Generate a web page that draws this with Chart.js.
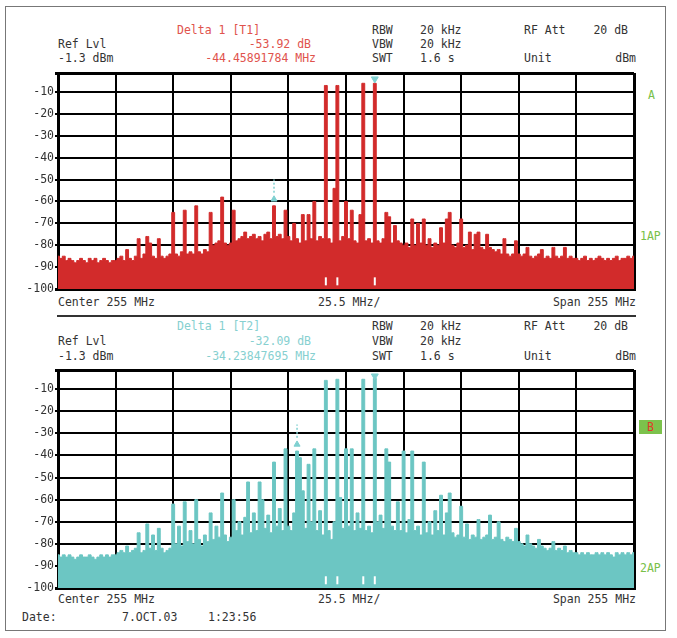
<!DOCTYPE html>
<html>
<head>
<meta charset="utf-8">
<script src="https://cdn.jsdelivr.net/npm/chart.js@4.4.1/dist/chart.umd.min.js"></script>
<style>
body { margin: 0; background: #fff; }
#page { position: relative; width: 677px; height: 638px; overflow: hidden;
        font-family: "DejaVu Sans Mono", monospace; font-size: 11.5px; color: #333; }
#frame { position: absolute; left: 5px; top: 6px; width: 659px; height: 623px; border: 1px solid #777; }
.t { position: absolute; white-space: pre; line-height: 14px; }
.red { color: #e0534d; }
.cyan { color: #86d0d0; }
.green { color: #78c048; }
#sep { position: absolute; left: 57px; top: 315px; width: 579px; height: 2px; background: #333; }
#boxB { position: absolute; left: 639px; top: 420px; width: 23px; height: 14px; background: #7cc24c;
        color: #e03a2a; text-align: center; line-height: 14px; }
canvas { position: absolute; }
</style>
</head>
<body>
<div id="page">
  <div id="frame"></div>

  <!-- upper header -->
  <div class="t red" style="left:177px;top:23px">Delta 1 [T1]</div>
  <div class="t" style="left:372px;top:23px">RBW</div>
  <div class="t" style="left:420px;top:23px">20 kHz</div>
  <div class="t" style="left:524px;top:23px">RF Att</div>
  <div class="t" style="right:49px;top:23px">20 dB</div>
  <div class="t" style="left:58px;top:37px">Ref Lvl</div>
  <div class="t red" style="right:366px;top:37px">-53.92 dB</div>
  <div class="t" style="left:372px;top:37px">VBW</div>
  <div class="t" style="left:420px;top:37px">20 kHz</div>
  <div class="t" style="left:58px;top:51px">-1.3 dBm</div>
  <div class="t red" style="right:361px;top:51px">-44.45891784 MHz</div>
  <div class="t" style="left:372px;top:51px">SWT</div>
  <div class="t" style="left:420px;top:51px">1.6 s</div>
  <div class="t" style="left:524px;top:51px">Unit</div>
  <div class="t" style="right:41px;top:51px">dBm</div>

  <div class="t green" style="left:648px;top:88px">A</div>
  <div class="t green" style="left:640px;top:229px">1AP</div>

  <div class="t" style="left:58px;top:295px">Center 255 MHz</div>
  <div class="t" style="left:318px;top:295px">25.5 MHz/</div>
  <div class="t" style="right:41px;top:295px">Span 255 MHz</div>

  <div id="sep"></div>

  <!-- lower header -->
  <div class="t cyan" style="left:177px;top:319px">Delta 1 [T2]</div>
  <div class="t" style="left:372px;top:319px">RBW</div>
  <div class="t" style="left:420px;top:319px">20 kHz</div>
  <div class="t" style="left:524px;top:319px">RF Att</div>
  <div class="t" style="right:49px;top:319px">20 dB</div>
  <div class="t" style="left:58px;top:334px">Ref Lvl</div>
  <div class="t cyan" style="right:366px;top:334px">-32.09 dB</div>
  <div class="t" style="left:372px;top:334px">VBW</div>
  <div class="t" style="left:420px;top:334px">20 kHz</div>
  <div class="t" style="left:58px;top:349px">-1.3 dBm</div>
  <div class="t cyan" style="right:361px;top:349px">-34.23847695 MHz</div>
  <div class="t" style="left:372px;top:349px">SWT</div>
  <div class="t" style="left:420px;top:349px">1.6 s</div>
  <div class="t" style="left:524px;top:349px">Unit</div>
  <div class="t" style="right:41px;top:349px">dBm</div>

  <div id="boxB">B</div>
  <div class="t green" style="left:640px;top:561px">2AP</div>

  <div class="t" style="left:58px;top:592px">Center 255 MHz</div>
  <div class="t" style="left:318px;top:592px">25.5 MHz/</div>
  <div class="t" style="right:41px;top:592px">Span 255 MHz</div>

  <div class="t" style="left:22px;top:610px">Date:</div>
  <div class="t" style="left:122px;top:610px">7.OCT.03</div>
  <div class="t" style="left:208px;top:610px">1:23:56</div>

  <canvas id="specA" width="622" height="232" style="left:18px;top:65px"></canvas>
  <canvas id="specB" width="622" height="234" style="left:18px;top:362px"></canvas>
</div>

<script>
// 200 frequency bins across the 255 MHz span (20 bins per 25.5 MHz division)
const bins = 200;
const xDivs = [0, 20, 40, 60, 80, 100, 120, 140, 160, 180, 200];
const yTicks = [-100, -90, -80, -70, -60, -50, -40, -30, -20, -10];
const yMin = -100;
const yMax = -1.3;   // ref level

// trace 1 (dBm), one value per bin
const traceA = [
  -85,-86,-85,-87,-86,-87,-88,-87,-86,-87,-88,-86,-87,-86,-88,-87,-86,-87,-88,-87,
  -87,-86,-85,-87,-82,-86,-87,-85,-77,-86,-84,-76,-79,-85,-86,-77,-85,-86,-85,-84,
  -65,-84,-85,-83,-64,-84,-83,-84,-62,-83,-84,-82,-83,-65,-80,-79,-78,-58,-79,-80,
  -79,-64,-78,-77,-76,-74,-77,-76,-75,-77,-76,-78,-75,-74,-77,-62,-76,-75,-77,-64,
  -76,-78,-70,-77,-79,-66,-78,-66,-77,-60,-78,-76,-77,-7,-77,-79,-54,-7,-78,-76,
  -60,-77,-64,-78,-79,-66,-6,-78,-77,-79,-6,-78,-79,-77,-65,-67,-79,-71,-78,-79,
  -80,-79,-81,-68,-80,-70,-79,-68,-80,-77,-81,-79,-80,-72,-79,-68,-65,-80,-81,-79,
  -68,-81,-80,-74,-82,-75,-74,-81,-82,-75,-81,-82,-83,-82,-84,-77,-84,-85,-84,-78,
  -84,-85,-84,-81,-85,-86,-85,-84,-82,-86,-85,-86,-81,-85,-86,-85,-81,-86,-85,-86,
  -86,-87,-86,-85,-87,-86,-87,-86,-85,-86,-87,-86,-87,-86,-85,-87,-86,-86,-85,-86,-85
];

// trace 2 (dBm)
const traceB = [
  -85,-86,-85,-86,-85,-86,-87,-86,-85,-86,-86,-85,-86,-87,-86,-85,-86,-85,-86,-85,
  -85,-84,-83,-84,-81,-84,-83,-82,-75,-84,-83,-71,-82,-76,-83,-73,-82,-84,-83,-82,
  -62,-80,-72,-81,-61,-79,-74,-80,-60,-78,-81,-76,-79,-66,-78,-72,-77,-57,-76,-79,
  -77,-60,-74,-70,-76,-68,-52,-75,-66,-74,-52,-60,-73,-67,-75,-43,-72,-64,-74,-37,
  -72,-74,-66,-38,-41,-56,-73,-44,-70,-37,-74,-65,-76,-6,-74,-78,-70,-5.5,-59,-73,
  -37,-72,-37,-74,-66,-73,-5.5,-74,-72,-75,-5,-70,-67,-73,-37,-43,-72,-74,-61,-74,
  -38,-75,-69,-38,-74,-72,-76,-43,-75,-70,-76,-65,-74,-58,-76,-66,-57,-75,-77,-76,
  -63,-77,-71,-78,-76,-77,-69,-78,-77,-76,-67,-78,-77,-70,-78,-79,-77,-78,-79,-73,
  -79,-80,-81,-76,-80,-81,-82,-78,-81,-82,-83,-82,-79,-83,-82,-83,-81,-84,-83,-84,
  -84,-85,-84,-85,-84,-85,-85,-84,-85,-84,-85,-84,-85,-86,-84,-85,-84,-85,-84,-85,-84
];

// marker positions (bins)
const refMarkerBin = 110;
const deltaMarkA = { bin: 75, level: -61 };
const deltaMarkB = { bin: 83, level: -37 };
const peakTicksA = [93, 97, 110];
const peakTicksB = [93, 97, 106, 110];

const FONT = { family: '"DejaVu Sans Mono", monospace', size: 11.5 };
const MARK = '#7fd0d0';

function makeChart(id, trace, color, peakTicks, delta) {
  const ctx = document.getElementById(id).getContext('2d');
  const edge = (i, n) => (i === 0 || i === n - 1) ? 3 : 2;

  return new Chart(ctx, {
    type: 'line',
    data: {
      datasets: [
        {
          data: trace.map((v, i) => ({ x: i, y: v })),
          stepped: 'middle',
          fill: 'start',
          borderColor: color,
          backgroundColor: color,
          borderWidth: 1,
          pointRadius: 0,
          order: 3
        },
        {
          // reference marker on the top of the tone
          data: [{ x: refMarkerBin, y: -4 }],
          showLine: false,
          pointStyle: 'triangle',
          rotation: 180,
          pointRadius: 4,
          backgroundColor: MARK,
          borderColor: MARK,
          order: 1
        },
        {
          // delta marker with its dotted stem
          data: [{ x: delta.bin, y: delta.level + 2 }],
          showLine: false,
          pointStyle: 'triangle',
          pointRadius: 3.5,
          backgroundColor: MARK,
          borderColor: MARK,
          order: 1
        },
        {
          data: [{ x: delta.bin, y: delta.level + 5 }, { x: delta.bin, y: delta.level + 11 }],
          borderColor: MARK,
          borderWidth: 1.5,
          borderDash: [2, 2],
          pointRadius: 0,
          order: 1
        },
        {
          // little white ticks at the bottom of the trace
          data: peakTicks.map(b => ({ x: b, y: -96.5 })),
          showLine: false,
          pointStyle: 'line',
          rotation: 90,
          pointRadius: 4,
          borderColor: '#ffffff',
          borderWidth: 2,
          order: 1
        }
      ]
    },
    options: {
      responsive: false,
      animation: false,
      devicePixelRatio: 1,
      layout: { padding: { top: 8, right: 4, bottom: 8, left: 0 } },
      plugins: { legend: { display: false }, tooltip: { enabled: false } },
      scales: {
        x: {
          type: 'linear',
          min: 0,
          max: bins,
          afterBuildTicks: s => { s.ticks = xDivs.map(v => ({ value: v })); },
          afterFit: s => { s.height = 0; },
          ticks: { display: false },
          grid: {
            color: '#000',
            lineWidth: c => edge(c.index, xDivs.length),
            drawTicks: false
          },
          border: { display: true, color: '#000', width: 3 }
        },
        y: {
          type: 'linear',
          min: yMin,
          max: yMax,
          afterBuildTicks: s => { s.ticks = yTicks.concat([yMax]).map(v => ({ value: v })); },
          afterFit: s => { s.width = 40; },
          ticks: {
            font: FONT,
            color: '#333',
            padding: 1,
            callback: v => yTicks.includes(v) ? String(v) : ''
          },
          grid: {
            color: '#000',
            lineWidth: c => edge(c.index, yTicks.length + 1),
            tickLength: 3
          },
          border: { display: true, color: '#000', width: 3 }
        }
      }
    }
  });
}

makeChart('specA', traceA, '#d22b2b', peakTicksA, deltaMarkA);
makeChart('specB', traceB, '#6cc6c3', peakTicksB, deltaMarkB);
</script>
</body>
</html>
